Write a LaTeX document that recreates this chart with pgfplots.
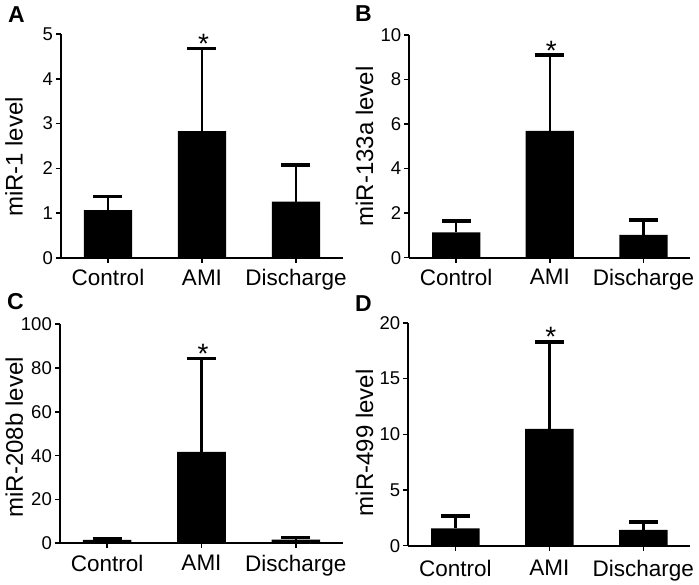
\documentclass[border=0pt]{standalone}
\usepackage{fontspec}
\setmainfont{Liberation Sans}
\usepackage{pgfplots}
\pgfplotsset{compat=1.18}
\tikzset{
  star/.style={font=\fontsize{28}{30}\selectfont, anchor=base, inner sep=0pt, xshift=1.5pt, yshift=-5pt},
  plabel/.style={anchor=base west, inner sep=0pt, font=\fontsize{23}{25}\selectfont\bfseries},
}
\pgfplotsset{
  panel/.style={
    scale only axis, anchor=south west, clip=false,
    xmin=-0.5, xmax=2.5, ymin=0,
    axis x line*=bottom, axis y line*=left,
    axis line style={line width=1.8pt,-},
    xtick={0,1,2}, xticklabels={Control,AMI,Discharge},
    major tick length=5pt, tick align=outside,
    tick style={line width=1.6pt, black},
    xticklabel style={font=\fontsize{22.5}{24}\selectfont, inner sep=0pt, yshift=-6.5pt},
    yticklabel style={font=\fontsize{18.5}{20}\selectfont, inner sep=0pt, xshift=-3pt},
    /pgf/number format/assume math mode=true,
    ybar, bar width=0.515,
  },
  bars/.style={fill=black, draw=none,
    error bars/.cd, y dir=plus, y explicit,
    error bar style={line width=2.6pt, black},
    error mark options={rotate=90, line width=3.4pt, mark size=14.5pt, black}},
  ylab/.style 2 args={ylabel style={font=\fontsize{24}{26}\selectfont, at={(axis description cs:#1,#2)}, anchor=base, inner sep=0pt}},
}
\begin{document}
\begin{tikzpicture}
\useasboundingbox (0,0) rectangle (699pt,585pt);
% Panel A
\begin{axis}[panel, at={(61pt,327pt)}, width=282pt, height=224pt,
  ymax=5, ytick={0,1,2,3,4,5}, ylabel={miR-1 level}, ylab={-0.1365}{0.451}]
\addplot+[bars] table[x=x, y=y, y error plus=e, row sep=\\] {
x y e \\ 0 1.07 0.30 \\ 1 2.83 1.85 \\ 2 1.26 0.82 \\
};
\node[star] at (axis cs:1,4.68) {*};
\end{axis}
% Panel B
\begin{axis}[panel, at={(409.3pt,327.3pt)}, width=281pt, height=222.7pt,
  ymax=10, ytick={0,2,4,6,8,10}, ylabel={miR-133a level}, ylab={-0.129}{0.5}]
\addplot+[bars] table[x=x, y=y, y error plus=e, row sep=\\] {
x y e \\ 0 1.14 0.51 \\ 1 5.69 3.41 \\ 2 1.02 0.67 \\
};
\node[star] at (axis cs:1,9.10) {*};
\end{axis}
% Panel C
\begin{axis}[panel, at={(60pt,41.7pt)}, width=283pt, height=219pt,
  ymax=100, ytick={0,20,40,60,80,100}, ylabel={miR-208b level}, ylab={-0.131}{0.484}]
\addplot+[bars] table[x=x, y=y, y error plus=e, row sep=\\] {
x y e \\ 0 1.6 0.5 \\ 1 41.8 42.7 \\ 2 1.7 0.9 \\
};
\node[star] at (axis cs:1,84.5) {*};
\end{axis}
% Panel D
\begin{axis}[panel, at={(408.3pt,39.3pt)}, width=282pt, height=222.7pt,
  ymax=20, ytick={0,5,10,15,20}, ylabel={miR-499 level}, ylab={-0.125}{0.462},
  xticklabel style={yshift=-2.5pt}]
\addplot+[bars] table[x=x, y=y, y error plus=e, row sep=\\] {
x y e \\ 0 1.56 1.11 \\ 1 10.5 7.8 \\ 2 1.41 0.72 \\
};
\node[star] at (axis cs:1,18.3) {*};
\end{axis}
% Panel letters
\node[plabel] at (8pt,562pt) {A};
\node[plabel] at (355pt,563pt) {B};
\node[plabel] at (7pt,275pt) {C};
\node[plabel] at (355pt,273.5pt) {D};
\end{tikzpicture}
\end{document}
